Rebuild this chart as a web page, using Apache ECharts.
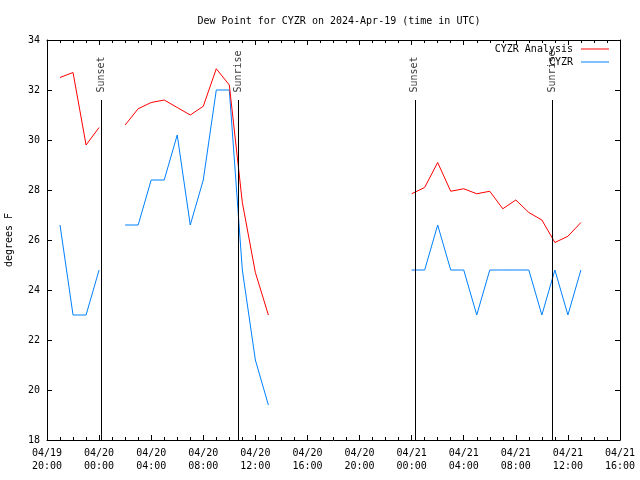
<!DOCTYPE html>
<html><head><meta charset="utf-8">
<script src="https://cdn.jsdelivr.net/npm/echarts@6/dist/echarts.min.js"></script>
<style>html,body{margin:0;padding:0;background:#fff}#c{width:640px;height:480px}</style>
</head><body><div id="c"></div>
<script>
// hours since 04/19 20:00 UTC
const xTickLabels = ['04/19\n20:00','04/20\n00:00','04/20\n04:00','04/20\n08:00','04/20\n12:00','04/20\n16:00','04/20\n20:00','04/21\n00:00','04/21\n04:00','04/21\n08:00','04/21\n12:00','04/21\n16:00'];
const yTicks = [18,20,22,24,26,28,30,32,34];
const hours1 = [1,2,3,4,5,6,7,8,9,10,11,12,13,14,15,16,17];
const analysis1 = [32.5,32.7,29.8,30.5,null,30.6,31.25,31.5,31.6,31.3,31.0,31.35,32.85,32.2,27.5,24.7,23.0];
const obs1 = [26.6,23.0,23.0,24.8,null,26.6,26.6,28.4,28.4,30.2,26.6,28.4,32.0,32.0,24.8,21.2,19.4];
const hours2 = [28,29,30,31,32,33,34,35,36,37,38,39,40,41];
const analysis2 = [27.85,28.1,29.1,27.95,28.05,27.85,27.95,27.25,27.6,27.1,26.8,25.9,26.15,26.7];
const obs2 = [24.8,24.8,26.6,24.8,24.8,23.0,24.8,24.8,24.8,24.8,23.0,24.8,23.0,24.8];
const sunTimes = [4.15, 14.69, 28.25, 38.8];
const sunNames = ['Sunset','Sunrise','Sunset','Sunrise'];
const sunLineTop = 31.6;

const FONT = 'DejaVu Sans Mono';
function build(hA, vA, hB, vB){
  const d = hA.map((h,i)=>[h, vA[i]]);
  d.push([(hA[hA.length-1]+hB[0])/2, null]);
  return d.concat(hB.map((h,i)=>[h, vB[i]]));
}
const chart = echarts.init(document.getElementById('c'), null, {renderer:'canvas'});
const txt = {fontFamily: FONT, fontSize: 10, color: '#000'};
const xBase = {
  type:'value', min:0, max:44, interval:4,
  axisLine:{show:true, onZero:false, lineStyle:{color:'#000', width:1}},
  axisTick:{show:true, inside:true, length:5, lineStyle:{color:'#000'}},
  minorTick:{show:true, splitNumber:4, length:3, lineStyle:{color:'#000'}},
  splitLine:{show:false}
};
const yBase = {
  type:'value', min:18, max:34, interval:2,
  axisLine:{show:true, onZero:false, lineStyle:{color:'#000', width:1}},
  axisTick:{show:true, inside:true, length:5, lineStyle:{color:'#000'}},
  splitLine:{show:false}
};
chart.setOption({
  animation:false,
  backgroundColor:'#fff',
  title:{text:'Dew Point for CYZR on 2024-Apr-19 (time in UTC)', left:334, top:11, textAlign:'center',
    textStyle:{fontFamily:FONT, fontSize:10, fontWeight:'normal', color:'#000'}},
  grid:{left:47, right:20, top:40, bottom:40, containLabel:false, outerBoundsMode:'none'},
  legend:[
    {data:['CYZR Analysis'], right:31, top:44, align:'right', orient:'vertical', padding:0, itemWidth:28, itemHeight:1, icon:'rect',
      textStyle:Object.assign({padding:[0,3,0,0]}, txt)},
    {data:['CYZR'], right:31, top:57, align:'right', orient:'vertical', padding:0, itemWidth:28, itemHeight:1, icon:'rect',
      textStyle:Object.assign({padding:[0,3,0,0]}, txt)}
  ],
  xAxis:[
    Object.assign({}, xBase, {position:'bottom',
      axisLabel:{show:true, margin:7, lineHeight:13, fontFamily:FONT, fontSize:10, color:'#000',
        formatter:(v)=>xTickLabels[Math.round(v/4)]}}),
    Object.assign({}, xBase, {position:'top', axisLabel:{show:false}})
  ],
  yAxis:[
    Object.assign({}, yBase, {position:'left', name:'degrees F', nameLocation:'middle', nameGap:33,
      nameTextStyle:{fontFamily:FONT, fontSize:10, color:'#000'},
      axisLabel:{show:true, margin:7, fontFamily:FONT, fontSize:10, color:'#000',
        formatter:(v)=>String(yTicks[yTicks.indexOf(v)])}}),
    Object.assign({}, yBase, {position:'right', axisLabel:{show:false}})
  ],
  series:[
    {name:'CYZR Analysis', type:'line', data:build(hours1, analysis1, hours2, analysis2),
      symbol:'none', connectNulls:false, lineStyle:{color:'#ff0000', width:1}, itemStyle:{color:'#ff0000'}, z:3},
    {name:'CYZR', type:'line', data:build(hours1, obs1, hours2, obs2),
      symbol:'none', connectNulls:false, lineStyle:{color:'#0080ff', width:1}, itemStyle:{color:'#0080ff'}, z:2},
    {name:'sun', type:'scatter', symbolSize:1, itemStyle:{color:'rgba(0,0,0,0)'}, z:4,
      data:sunTimes.map((t,i)=>({value:[t, sunLineTop], name:sunNames[i]})),
      label:{show:true, formatter:(p)=>p.name, position:'top', distance:7, rotate:90, align:'left', verticalAlign:'middle',
        fontFamily:FONT, fontSize:10, color:'#000'},
      markLine:{silent:true, symbol:'none', label:{show:false}, lineStyle:{color:'#000', width:1, type:'solid'},
        data:sunTimes.map(t=>[{coord:[t,18]},{coord:[t,sunLineTop]}])}
    }
  ]
});
</script></body></html>
